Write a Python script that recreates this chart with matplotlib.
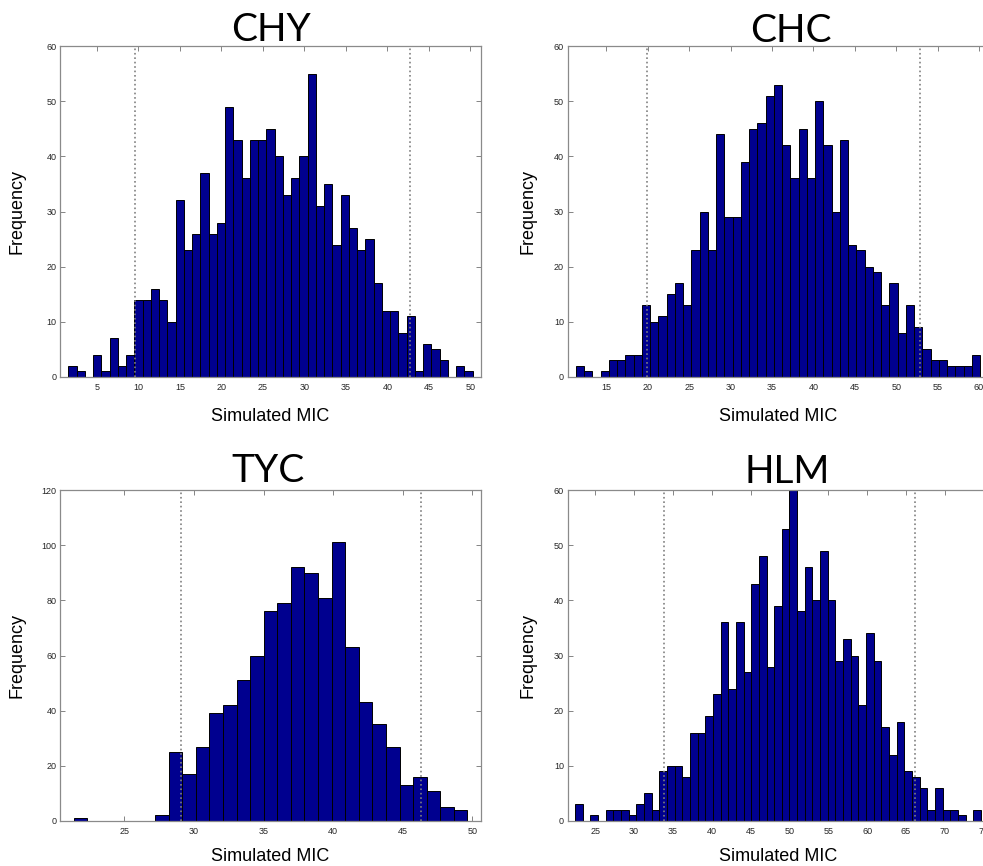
import numpy as np
import matplotlib
matplotlib.use("Agg")
import matplotlib.pyplot as plt

# counts per bin
chy_counts = [2, 1, 0, 4, 1, 7, 2, 4, 14, 14, 16, 14, 10, 32, 23, 26, 37, 26, 28, 49,
              43, 36, 43, 43, 45, 40, 33, 36, 40, 55, 31, 35, 24, 33, 27, 23, 25, 17,
              12, 12, 8, 11, 1, 6, 5, 3, 0, 2, 1]
chy_start = 1.54
chy_width = 0.995
chy_cut = [9.62, 42.68]

chc_counts = [2, 1, 0, 1, 3, 3, 4, 4, 13, 10, 11, 15, 17, 13, 23, 30, 23, 44, 29, 29,
              39, 45, 46, 51, 53, 42, 36, 45, 36, 50, 42, 30, 43, 24, 23, 20, 19, 13,
              17, 8, 13, 9, 5, 3, 3, 2, 2, 2, 4]
chc_start = 11.29
chc_width = 0.997
chc_cut = [19.92, 52.9]

tyc_counts = [1, 0, 0, 0, 0, 0, 2, 25, 17, 27, 39, 42, 51, 60, 76, 79, 92, 90, 81, 101,
              63, 43, 35, 27, 13, 16, 11, 5, 4]
tyc_start = 21.35
tyc_width = 0.976
tyc_cut = [29.08, 46.32]

hlm_counts = [3, 0, 1, 0, 2, 2, 2, 1, 3, 5, 2, 9, 10, 10, 8, 16, 16, 19, 23, 36,
              24, 36, 27, 43, 48, 28, 39, 53, 60, 38, 46, 40, 49, 40, 29, 33, 30, 21,
              34, 29, 17, 12, 18, 9, 8, 6, 2, 6, 2, 2, 1, 0, 2]
hlm_start = 22.42
hlm_width = 0.985
hlm_cut = [33.8, 66.2]

W, H = 983, 866
fig = plt.figure(figsize=(W / 100, H / 100), dpi=100)

label_font = "Liberation Sans"
title_font = "Lato"


def panel(left, top, counts, start, width, cuts, ymax, ystep, xticks, title,
          title_x, title_gap, ylab_x, xlab_y):
    ax = fig.add_axes([left / W, (H - top - 331) / H, 421 / W, 331 / H])
    counts = np.array(counts)
    edges = start + width * np.arange(len(counts) + 1)
    ax.bar(edges[:-1], counts, width=width, align="edge", color="#00008f",
           edgecolor="black", linewidth=0.7, zorder=2)
    for c in cuts:
        ax.plot([c, c], [0, ymax], color="#808080", linestyle=":", linewidth=1.2, zorder=3)
    ax.set_xlim(edges[0] - width, edges[-1] + width)
    ax.set_ylim(0, ymax)
    ax.set_xticks(xticks)
    ax.set_yticks(np.arange(0, ymax + 1, ystep))
    ax.tick_params(direction="in", top=True, right=True, length=3.5, width=0.6,
                   color="#707070", labelsize=6.5, labelcolor="#262626")
    ax.tick_params(axis="x", pad=4)
    ax.tick_params(axis="y", pad=2.5)
    for lbl in ax.get_xticklabels() + ax.get_yticklabels():
        lbl.set_fontfamily(label_font)
    for s in ax.spines.values():
        s.set_color("#8a8a8a")
        s.set_linewidth(0.9)
    ax.set_xlabel("Simulated MIC", fontsize=13, family=label_font, va="top")
    ax.set_ylabel("Frequency", fontsize=13, family=label_font)
    ax.xaxis.set_label_coords(0.5, xlab_y)
    ax.yaxis.set_label_coords(ylab_x, 0.5)
    ax.text(title_x, 1 + title_gap / 331, title, transform=ax.transAxes,
            ha="center", va="baseline", fontsize=28, family=title_font)
    return ax


panel(60, 46, chy_counts, chy_start, chy_width, chy_cut, 60, 10,
      np.arange(5, 51, 5), "CHY", 0.501, 5, -0.081, -0.093)
panel(567.5, 46, chc_counts, chc_start, chc_width, chc_cut, 60, 10,
      np.arange(15, 61, 5), "CHC", 0.531, 4.5, -0.073, -0.093)
panel(60, 490, tyc_counts, tyc_start, tyc_width, tyc_cut, 120, 20,
      np.arange(25, 51, 5), "TYC", 0.493, 8, -0.081, -0.081)
panel(567.5, 490, hlm_counts, hlm_start, hlm_width, hlm_cut, 60, 10,
      np.arange(25, 76, 5), "HLM", 0.521, 7, -0.073, -0.081)

fig.savefig("out.png", dpi=100)
